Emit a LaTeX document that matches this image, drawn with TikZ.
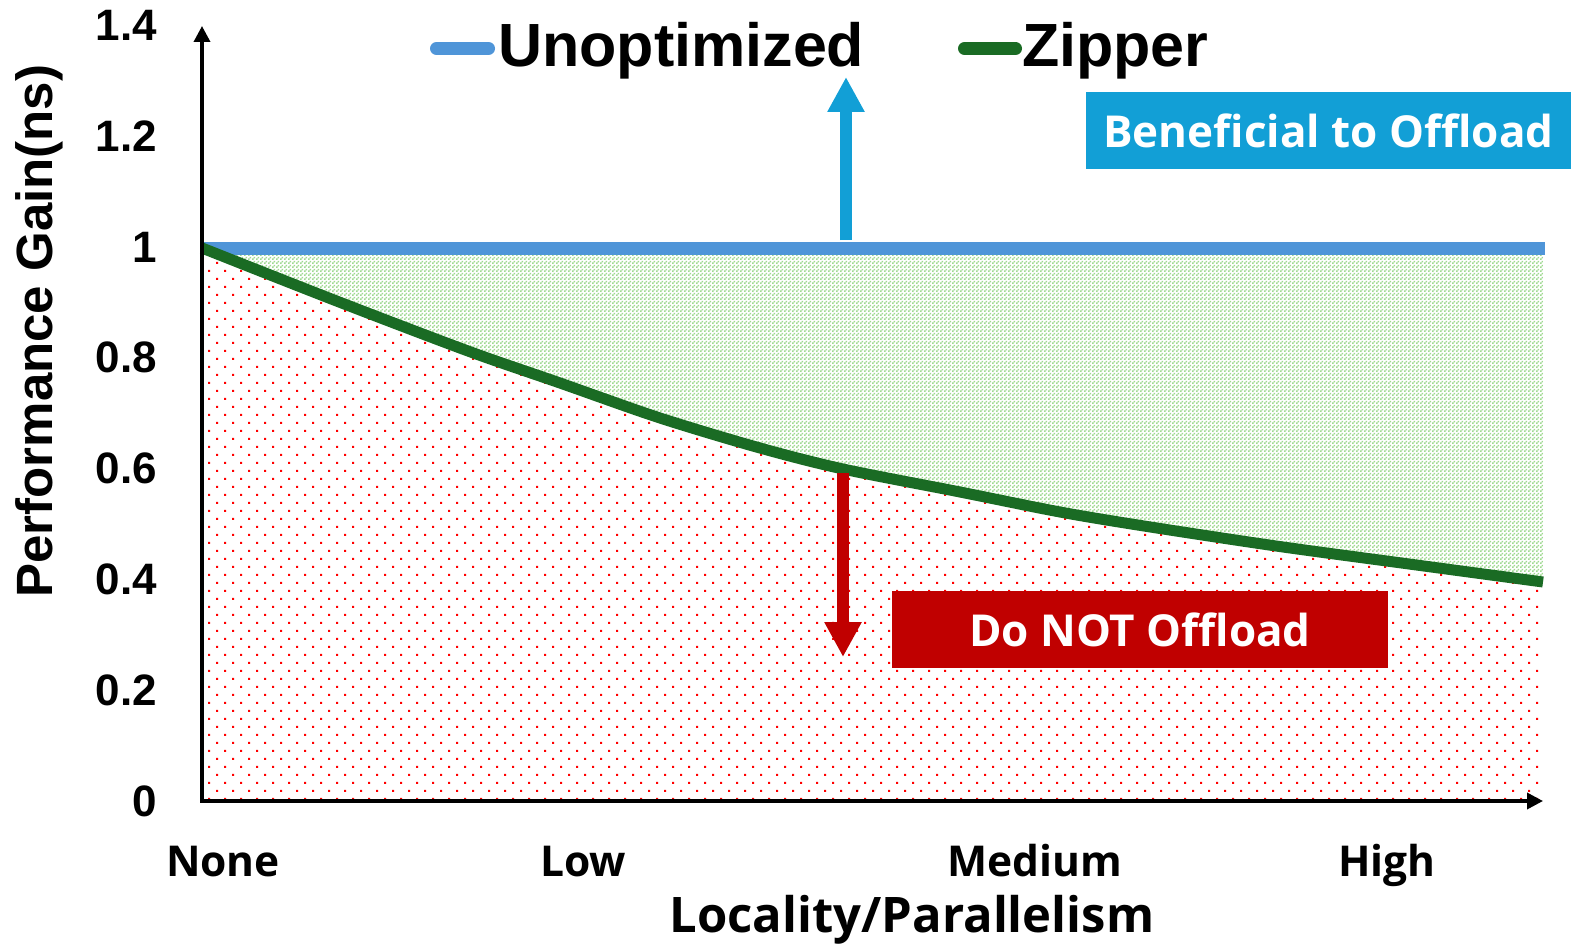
\documentclass[tikz,border=0pt]{standalone}
\usepackage{fontspec}
\setmainfont{Liberation Sans}
\newfontfamily\aptos{Open Sans}
\usetikzlibrary{arrows.meta,patterns}
\pgfdeclarepatternformonly{reddots}{\pgfpoint{-1pt}{-1pt}}{\pgfpoint{17pt}{17pt}}{\pgfpoint{16pt}{16pt}}{%
  \pgfpathrectangle{\pgfpoint{0pt}{0pt}}{\pgfpoint{2pt}{2pt}}%
  \pgfpathrectangle{\pgfpoint{8pt}{8pt}}{\pgfpoint{2pt}{2pt}}%
  \pgfusepath{fill}}
\pgfdeclarepatternformonly{checker}{\pgfpointorigin}{\pgfpoint{4pt}{4pt}}{\pgfpoint{4pt}{4pt}}{%
  \pgfpathrectangle{\pgfpoint{0pt}{0pt}}{\pgfpoint{2pt}{2pt}}%
  \pgfpathrectangle{\pgfpoint{2pt}{2pt}}{\pgfpoint{2pt}{2pt}}%
  \pgfusepath{fill}}
\definecolor{lineblue}{HTML}{4F95D8}
\definecolor{zgreen}{HTML}{1A6B24}
\definecolor{boxblue}{HTML}{129FD6}
\definecolor{dred}{HTML}{C00000}
\definecolor{checkgreen}{HTML}{9ED990}
\tikzset{
  axisline/.style={line width=3.5pt, line join=miter, {Triangle[length=16pt,width=16pt]}-{Triangle[length=16pt,width=16pt]}},
  bigarrow/.style={line width=12pt, -{Triangle[length=35pt,width=35pt]}},
  labelbox/.style={rectangle, inner sep=0pt, text=white, font=\aptos\bfseries\fontsize{44}{44}\selectfont},
  ticky/.style={anchor=east, inner sep=0pt, font=\bfseries\fontsize{44}{44}\selectfont},
  tickx/.style={anchor=base, inner sep=0pt, font=\aptos\bfseries\fontsize{42.5}{42.5}\selectfont},
  legtext/.style={anchor=base west, inner sep=0pt, font=\bfseries\fontsize{61}{61}\selectfont},
  legline/.style={line width=13pt, line cap=round},
  zsmooth/.style={smooth, tension=0.5}
}
\begin{document}
\begin{tikzpicture}[x=1pt, y=-1pt]
\useasboundingbox (0,0) rectangle (1571,944);
% regions
\fill[pattern=reddots, pattern color=red] (202,801) -- plot[zsmooth] coordinates {(202,248) (334,300) (468,351) (560,383) (660,418) (760,448) (843,469) (960,492) (1060,512) (1144,526) (1276,546) (1409,564) (1543,582)} -- (1543,801) -- cycle;
\fill[pattern=checker, pattern color=checkgreen] (1543,248) -- (202,248) -- plot[zsmooth] coordinates {(202,248) (334,300) (468,351) (560,383) (660,418) (760,448) (843,469) (960,492) (1060,512) (1144,526) (1276,546) (1409,564) (1543,582)} -- cycle;
% unoptimized line
\coordinate (u0) at (202,248.5);
\coordinate (u1) at (1545,248.5);
\draw[lineblue, line width=13pt] (u0) -- (u1);
% zipper curve
\draw[zgreen, line width=11pt] plot[zsmooth] coordinates {(202,248) (334,300) (468,351) (560,383) (660,418) (760,448) (843,469) (960,492) (1060,512) (1144,526) (1276,546) (1409,564) (1543,582)};
% axes
\coordinate (ytop) at (202,26);
\coordinate (O) at (202,801);
\coordinate (xend) at (1543,801);
\draw[axisline] (ytop) -- (O) -- (xend);
% y ticks
\foreach \v/\lab in {0/0,0.2/0.2,0.4/0.4,0.6/0.6,0.8/0.8,1/1,1.2/1.2,1.4/1.4}
  \node[ticky] (t\lab) at (157,{801-554*\v}) {\lab};
% y title
\node[rotate=90, anchor=base, inner sep=0pt, font=\bfseries\fontsize{51}{51}\selectfont] (ytitle) at (52,331) {Performance Gain(ns)};
% x ticks
\node[tickx] (xn) at (223,876) {None};
\node[tickx] (xl) at (583,876) {Low};
\node[tickx] (xm) at (1035,876) {Medium};
\node[tickx] (xh) at (1387,876) {High};
\node[anchor=base, inner sep=0pt, font=\aptos\bfseries\fontsize{49}{49}\selectfont] (xtitle) at (912,932) {Locality/Parallelism};
% legend
\coordinate (lb0) at (436.5,48.5);
\coordinate (lb1) at (488.5,48.5);
\draw[legline, lineblue] (lb0) -- (lb1);
\node[legtext] (lu) at (498,67) {Unoptimized};
\coordinate (lg0) at (964.5,48.5);
\coordinate (lg1) at (1015.5,48.5);
\draw[legline, zgreen] (lg0) -- (lg1);
\node[legtext] (lz) at (1022,67) {Zipper};
% arrows
\coordinate (ua0) at (846,240);
\coordinate (ua1) at (846,77);
\draw[bigarrow, boxblue] (ua0) -- (ua1);
\coordinate (da0) at (843,473);
\coordinate (da1) at (843,657);
\draw[bigarrow, dred] (da0) -- (da1);
% boxes
\node[labelbox, fill=boxblue, minimum width=485pt, minimum height=77pt] (benef) at (1328.5,130.5) {Beneficial to Offload};
\node[labelbox, fill=dred, minimum width=496pt, minimum height=77pt] (nooff) at (1140,629.5) {Do NOT Offload};
\end{tikzpicture}
\end{document}
